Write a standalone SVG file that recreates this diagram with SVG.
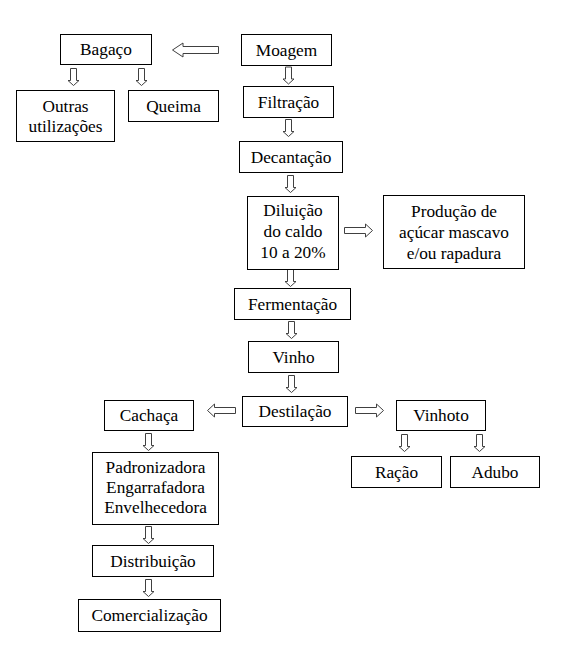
<svg xmlns="http://www.w3.org/2000/svg" width="579" height="657" viewBox="0 0 579 657">
<defs>
<path id="ad" d="M-3,0 H3 V12 H5.5 L0,17 L-5.5,12 H-3 Z"/>
<path id="ar" d="M0,-3 H21 V-6.5 L28,0 L21,6.5 V3 H0 Z"/>
<path id="al" d="M0,-3 H-21 V-6.5 L-28,0 L-21,6.5 V3 H0 Z"/>
</defs>
<rect width="579" height="657" fill="#fff"/>
<g id="connectors" fill="#fff" stroke="#404040" stroke-width="1">
<path d="M218.5,46.5 H183 V43 L172.5,50 L183,57 V53.5 H218.5 Z"/>
<use href="#ad" x="288.5" y="67"/>
<use href="#ad" x="288.5" y="119.5"/>
<use href="#ad" x="290.5" y="175.5"/>
<use href="#ad" x="290.5" y="269.5"/>
<use href="#ad" x="291.5" y="321.5"/>
<use href="#ad" x="291.5" y="375.5"/>
<use href="#ad" x="73.5" y="68.5"/>
<use href="#ad" x="141.5" y="68.5"/>
<use href="#ad" x="404.5" y="434.5"/>
<use href="#ad" x="479.5" y="434.5"/>
<use href="#ad" x="148.5" y="433.5"/>
<use href="#ad" x="148.5" y="526.5"/>
<use href="#ad" x="148.5" y="579.5"/>
<use href="#ar" x="344.5" y="230.5"/>
<use href="#ar" x="355.5" y="410.5"/>
<use href="#al" x="235.5" y="410.5"/>
</g>
<g fill="#fff" stroke="#000" stroke-width="1">
<rect id="bagaco-box" x="60.5" y="34.5" width="91" height="30"/>
<rect id="moagem-box" x="241.5" y="34.5" width="90" height="31"/>
<rect id="outras-box" x="16.5" y="90.5" width="98" height="51"/>
<rect id="queima-box" x="128.5" y="90.5" width="90" height="31"/>
<rect id="filtracao-box" x="243.5" y="86.5" width="90" height="31"/>
<rect id="decantacao-box" x="239.5" y="141.5" width="103" height="31"/>
<rect id="diluicao-box" x="247.5" y="196.5" width="91" height="73"/>
<rect id="producao-box" x="383.5" y="195.5" width="141" height="73"/>
<rect id="fermentacao-box" x="234.5" y="288.5" width="116" height="31"/>
<rect id="vinho-box" x="248.5" y="341.5" width="90" height="31"/>
<rect id="destilacao-box" x="242.5" y="396.5" width="105" height="30"/>
<rect id="cachaca-box" x="104.5" y="400.5" width="89" height="30"/>
<rect id="vinhoto-box" x="396.5" y="400.5" width="89" height="30"/>
<rect id="racao-box" x="351.5" y="456.5" width="90" height="31"/>
<rect id="adubo-box" x="450.5" y="456.5" width="89" height="31"/>
<rect id="padronizadora-box" x="92.5" y="452.5" width="126" height="72"/>
<rect id="distribuicao-box" x="92.5" y="545.5" width="121" height="31"/>
<rect id="comercializacao-box" x="78.5" y="599.5" width="142" height="32"/>
</g>
<g id="bagaco"><text font-family="Liberation Serif" font-size="17.3" text-anchor="middle" x="106" y="55">Bagaço</text></g>
<g id="moagem"><text font-family="Liberation Serif" font-size="17.3" text-anchor="middle" x="286.5" y="56">Moagem</text></g>
<g id="outras"><text font-family="Liberation Serif" font-size="17.3" text-anchor="middle" x="65.5" y="112">Outras</text><text font-family="Liberation Serif" font-size="17.3" text-anchor="middle" x="65.5" y="132">utilizações</text></g>
<g id="queima"><text font-family="Liberation Serif" font-size="17.3" text-anchor="middle" x="173.5" y="112">Queima</text></g>
<g id="filtracao"><text font-family="Liberation Serif" font-size="17.3" text-anchor="middle" x="288.5" y="108">Filtração</text></g>
<g id="decantacao"><text font-family="Liberation Serif" font-size="17.3" text-anchor="middle" x="291" y="163">Decantação</text></g>
<g id="diluicao"><text font-family="Liberation Serif" font-size="17.3" text-anchor="middle" x="293" y="216">Diluição</text><text font-family="Liberation Serif" font-size="17.3" text-anchor="middle" x="293" y="237">do caldo</text><text font-family="Liberation Serif" font-size="17.3" text-anchor="middle" x="293" y="258">10 a 20%</text></g>
<g id="producao"><text font-family="Liberation Serif" font-size="17.3" text-anchor="middle" x="454" y="217">Produção de</text><text font-family="Liberation Serif" font-size="17.3" text-anchor="middle" x="454" y="238">açúcar mascavo</text><text font-family="Liberation Serif" font-size="17.3" text-anchor="middle" x="454" y="259">e/ou rapadura</text></g>
<g id="fermentacao"><text font-family="Liberation Serif" font-size="17.3" text-anchor="middle" x="292.5" y="310">Fermentação</text></g>
<g id="vinho"><text font-family="Liberation Serif" font-size="17.3" text-anchor="middle" x="293.5" y="363">Vinho</text></g>
<g id="destilacao"><text font-family="Liberation Serif" font-size="17.3" text-anchor="middle" x="295" y="417">Destilação</text></g>
<g id="cachaca"><text font-family="Liberation Serif" font-size="17.3" text-anchor="middle" x="149" y="421">Cachaça</text></g>
<g id="vinhoto"><text font-family="Liberation Serif" font-size="17.3" text-anchor="middle" x="441" y="421">Vinhoto</text></g>
<g id="racao"><text font-family="Liberation Serif" font-size="17.3" text-anchor="middle" x="396.5" y="478">Ração</text></g>
<g id="adubo"><text font-family="Liberation Serif" font-size="17.3" text-anchor="middle" x="495" y="478">Adubo</text></g>
<g id="padronizadora"><text font-family="Liberation Serif" font-size="17.3" text-anchor="middle" x="155.5" y="473">Padronizadora</text><text font-family="Liberation Serif" font-size="17.3" text-anchor="middle" x="155.5" y="493">Engarrafadora</text><text font-family="Liberation Serif" font-size="17.3" text-anchor="middle" x="155.5" y="513">Envelhecedora</text></g>
<g id="distribuicao"><text font-family="Liberation Serif" font-size="17.3" text-anchor="middle" x="153" y="567">Distribuição</text></g>
<g id="comercializacao"><text font-family="Liberation Serif" font-size="17.3" text-anchor="middle" x="149.5" y="621">Comercialização</text></g>
</svg>
